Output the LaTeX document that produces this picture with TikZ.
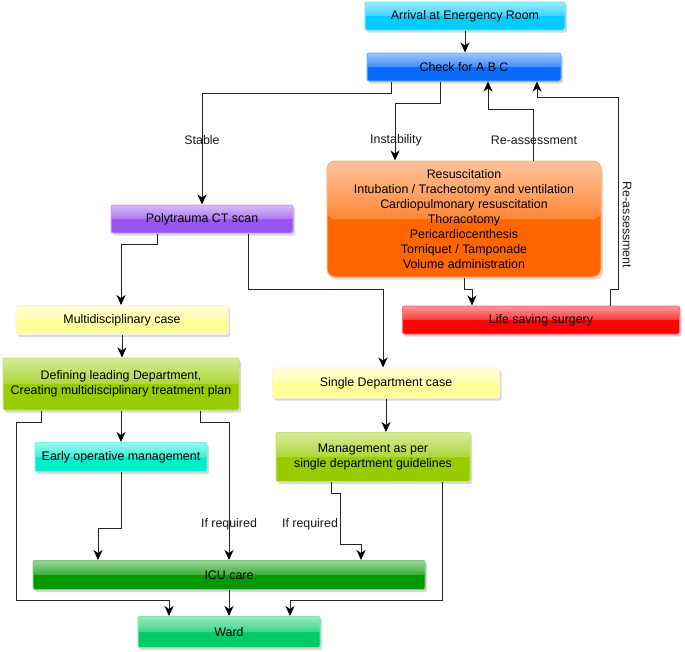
\documentclass[tikz,border=0pt]{standalone}
\usepackage{fontspec}
\setmainfont{Liberation Sans}
\usetikzlibrary{arrows.meta,shadows,calc,fadings}

\definecolor{cyanc}{HTML}{00CCFF}
\definecolor{bluec}{HTML}{0A6CFA}
\definecolor{orangec}{HTML}{FF6600}
\definecolor{redc}{HTML}{FF0000}
\definecolor{purplec}{HTML}{9955F0}
\definecolor{yellowc}{HTML}{FFFF99}
\definecolor{limec}{HTML}{99CC00}
\definecolor{aquac}{HTML}{00EECC}
\definecolor{greenc}{HTML}{009900}
\definecolor{jadec}{HTML}{00CC66}

\begin{document}
\begin{tikzpicture}[x=1pt,y=-1pt,font=\fontsize{12.4}{15}\selectfont]
    \tikzstyle{box}=[draw, line width=1pt, rounded corners=2pt, inner sep=2pt, align=center,
        drop shadow={shadow xshift=2pt,shadow yshift=-2.5pt,opacity=0.3},
        path picture={
            \fill[white,opacity=0.22] (path picture bounding box.north west) rectangle (path picture bounding box.east);
            \fill[white,opacity=0.5,path fading=south] (path picture bounding box.north west)
                rectangle (path picture bounding box.east);}]
    \tikzstyle{cyan box}=[box, fill=cyanc, draw=cyanc!55!white]
    \tikzstyle{blue box}=[box, fill=bluec, draw=bluec!55!white]
    \tikzstyle{orange box}=[box, fill=orangec, draw=orangec!50!white, rounded corners=8pt]
    \tikzstyle{red box}=[box, fill=redc, draw=redc!55!white]
    \tikzstyle{purple box}=[box, fill=purplec, draw=purplec!55!white]
    \tikzstyle{yellow box}=[box, fill=yellowc, draw=yellowc!80!black!20!white]
    \tikzstyle{lime box}=[box, fill=limec, draw=limec!55!white]
    \tikzstyle{aqua box}=[box, fill=aquac, draw=aquac!55!white]
    \tikzstyle{green box}=[box, fill=greenc, draw=greenc!50!white]
    \tikzstyle{jade box}=[box, fill=jadec, draw=jadec!50!white]
    \tikzstyle{conn}=[draw=black!85, line width=1pt, -{Stealth[length=10pt,width=9pt,inset=3pt,color=black]}]
    \tikzstyle{lbl}=[text=black!90, inner sep=1pt]

    \useasboundingbox (0,0) rectangle (685,651);

    % boxes
    \node[cyan box, minimum width=200pt, minimum height=28pt] (arrival) at (465,16) {Arrival at Energency Room};
    \node[blue box, minimum width=194pt, minimum height=28pt] (check) at (464,67) {Check for A B C};
    \node[orange box, minimum width=274pt, minimum height=116pt] (resus) at (464,219)
        {Resuscitation\\Intubation / Tracheotomy and ventilation\\Cardiopulmonary resuscitation\\Thoracotomy\\Pericardiocenthesis\\Torniquet / Tamponade\\Volume administration};
    \node[red box, minimum width=277pt, minimum height=28pt] (life) at (541,320) {Life saving surgery};
    \node[purple box, minimum width=182pt, minimum height=28pt] (poly) at (202,219) {Polytrauma CT scan};
    \node[yellow box, minimum width=212pt, minimum height=29pt] (multi) at (122,320) {Multidisciplinary case};
    \node[lime box, minimum width=236pt, minimum height=52pt] (defining) at (121,384)
        {Defining leading Department,\\Creating multidisciplinary treatment plan};
    \node[yellow box, minimum width=227pt, minimum height=30pt] (single) at (386,383) {Single Department case};
    \node[lime box, minimum width=194pt, minimum height=49pt] (manage) at (373,457)
        {Management as per\\single department guidelines};
    \node[aqua box, minimum width=172pt, minimum height=29pt] (early) at (121,457) {Early operative management};
    \node[green box, minimum width=392pt, minimum height=29pt] (icu) at (229,575) {ICU care};
    \node[jade box, minimum width=182pt, minimum height=31pt] (ward) at (229,632) {Ward};

    % straight links
    \foreach \a/\b in {arrival/check, multi/defining, defining/early, single/manage, icu/ward}
        \draw[conn] (\a.south) -- (\a.south |- \b.north);

    % bent links
    \draw[conn] ([xshift=-73pt]check.south) -- ++(0,12) -| (poly.north);
    \draw[conn] ([xshift=-24pt]check.south) -- ++(0,22) -| ([xshift=-69pt]resus.north);
    \draw[conn] ([xshift=69pt]resus.north) -- ++(0,-51) -| ([xshift=24pt]check.south);
    \draw[conn] ([xshift=69pt]life.north) -- ++(0,-16) -- ++(8,0) -- ++(0,-192) -| ([xshift=73pt]check.south);
    \draw[conn] (resus.south) -- ++(0,12) -| ([xshift=-69pt]life.north);
    \draw[conn] ([xshift=-45pt]poly.south) -- ++(0,11) -| ([xshift=-1pt]multi.north);
    \draw[conn] ([xshift=46pt]poly.south) -- ++(0,56) -| ([xshift=-3pt]single.north);
    \draw[conn] ([xshift=-80pt]defining.south) -- ++(0,12) -- ++(-25,0) -- ++(0,178) -| ([xshift=-60pt]ward.north);
    \draw[conn] ([xshift=79pt]defining.south) -- ++(0,12) -| (icu.north);
    \draw[conn] (early.south) -- ++(0,56) -| ([xshift=-131pt]icu.north);
    \draw[conn] ([xshift=-42pt]manage.south) -- ++(0,11) -- ++(9,0) -- ++(0,51) -| ([xshift=132pt]icu.north);
    \draw[conn] ([xshift=69pt]manage.south) -- ++(0,118) -| ([xshift=61pt]ward.north);

    % labels
    \node[lbl] (stable) at (202,140) {Stable};
    \node[lbl] (instab) at (396,140) {Instability};
    \node[lbl] (reass1) at (534,140) {Re-assessment};
    \node[lbl, rotate=-90] (reass2) at (627,225) {Re-assessment};
    \node[lbl] (ifreq1) at (229,524) {If required};
    \node[lbl] (ifreq2) at (310,524) {If required};
\end{tikzpicture}
\end{document}
